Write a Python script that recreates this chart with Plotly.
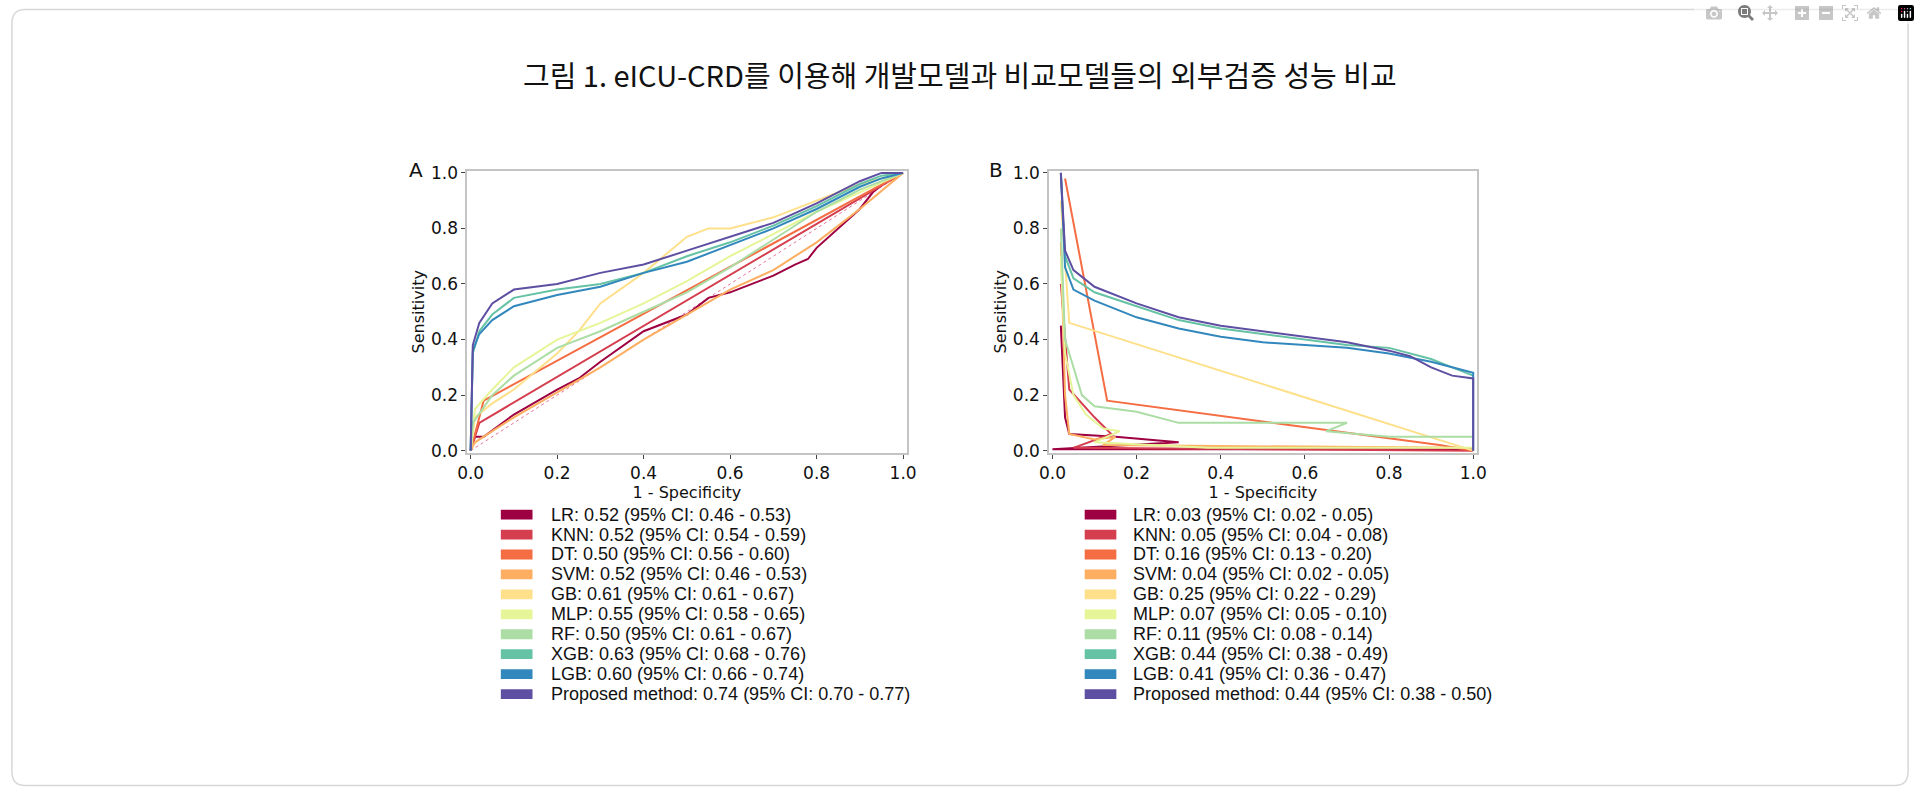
import plotly.graph_objects as go

W, H = 1920, 795

models = ["LR", "KNN", "DT", "SVM", "GB", "MLP", "RF", "XGB", "LGB", "Proposed method"]
colors = ["#9e0142", "#d53e4f", "#f46d43", "#fdae61", "#fee08b",
          "#e6f598", "#abdda4", "#66c2a5", "#3288bd", "#5e4fa2"]

labels_a = ["0.52 (95% CI: 0.46 - 0.53)", "0.52 (95% CI: 0.54 - 0.59)", "0.50 (95% CI: 0.56 - 0.60)",
            "0.52 (95% CI: 0.46 - 0.53)", "0.61 (95% CI: 0.61 - 0.67)", "0.55 (95% CI: 0.58 - 0.65)",
            "0.50 (95% CI: 0.61 - 0.67)", "0.63 (95% CI: 0.68 - 0.76)", "0.60 (95% CI: 0.66 - 0.74)",
            "0.74 (95% CI: 0.70 - 0.77)"]
labels_b = ["0.03 (95% CI: 0.02 - 0.05)", "0.05 (95% CI: 0.04 - 0.08)", "0.16 (95% CI: 0.13 - 0.20)",
            "0.04 (95% CI: 0.02 - 0.05)", "0.25 (95% CI: 0.22 - 0.29)", "0.07 (95% CI: 0.05 - 0.10)",
            "0.11 (95% CI: 0.08 - 0.14)", "0.44 (95% CI: 0.38 - 0.49)", "0.41 (95% CI: 0.36 - 0.47)",
            "0.44 (95% CI: 0.38 - 0.50)"]

# panel A: ROC curves (x = 1 - specificity, y = sensitivity)
roc_x = [
    [0, 0.01, 0.03, 0.1, 0.2, 0.25, 0.3, 0.4, 0.5, 0.55, 0.6, 0.65, 0.7, 0.75, 0.78, 0.8, 0.85, 0.9, 0.93, 0.97, 1],
    [0, 0.02, 1],
    [0, 0.03, 1],
    [0, 0.01, 0.05, 0.1, 0.2, 0.3, 0.4, 0.5, 0.6, 0.7, 0.8, 0.9, 1],
    [0, 0.01, 0.05, 0.1, 0.2, 0.25, 0.3, 0.4, 0.5, 0.55, 0.6, 0.7, 0.8, 0.9, 1],
    [0, 0.01, 0.05, 0.1, 0.2, 0.3, 0.4, 0.5, 0.6, 0.7, 0.8, 0.9, 1],
    [0, 0.005, 0.05, 0.1, 0.2, 0.3, 0.4, 0.5, 0.6, 0.7, 0.8, 0.9, 1],
    [0, 0.005, 0.02, 0.05, 0.1, 0.2, 0.3, 0.4, 0.5, 0.6, 0.7, 0.8, 0.9, 0.95, 1],
    [0, 0.005, 0.02, 0.05, 0.1, 0.2, 0.3, 0.4, 0.5, 0.6, 0.7, 0.8, 0.9, 0.95, 1],
    [0, 0.005, 0.02, 0.05, 0.1, 0.2, 0.3, 0.4, 0.5, 0.6, 0.7, 0.8, 0.9, 0.95, 1],
]
roc_y = [
    [0, 0.05, 0.05, 0.13, 0.22, 0.26, 0.32, 0.43, 0.49, 0.55, 0.57, 0.6, 0.63, 0.67, 0.69, 0.73, 0.8, 0.87, 0.93, 0.98, 1],
    [0, 0.1, 1],
    [0, 0.18, 1],
    [0, 0.03, 0.07, 0.12, 0.21, 0.3, 0.4, 0.49, 0.58, 0.65, 0.75, 0.87, 1],
    [0, 0.12, 0.17, 0.22, 0.35, 0.43, 0.53, 0.64, 0.77, 0.8, 0.8, 0.84, 0.9, 0.96, 1],
    [0, 0.15, 0.22, 0.3, 0.4, 0.46, 0.53, 0.61, 0.7, 0.78, 0.86, 0.93, 1],
    [0, 0.1, 0.2, 0.27, 0.37, 0.43, 0.5, 0.57, 0.66, 0.76, 0.86, 0.94, 1],
    [0, 0.35, 0.43, 0.49, 0.55, 0.58, 0.6, 0.64, 0.7, 0.75, 0.81, 0.88, 0.96, 0.99, 1],
    [0, 0.36, 0.42, 0.47, 0.52, 0.56, 0.59, 0.64, 0.68, 0.74, 0.8, 0.87, 0.95, 0.98, 1],
    [0, 0.38, 0.46, 0.53, 0.58, 0.6, 0.64, 0.67, 0.72, 0.77, 0.82, 0.89, 0.97, 1, 1],
]

# panel B
pr_x = [
    [0.02, 0.03, 0.04, 0.15, 0.3, 0.0, 1],
    [0.02, 0.04, 0.1, 0.14, 0.05, 1],
    [0.03, 0.13, 0.92, 1],
    [0.02, 0.03, 0.04, 0.1, 0.15, 0.12, 0.98],
    [0.02, 0.04, 1],
    [0.02, 0.03, 0.05, 0.08, 0.12, 0.16, 0.1, 0.37, 1],
    [0.02, 0.03, 0.05, 0.07, 0.1, 0.2, 0.3, 0.7, 0.65, 0.8, 1],
    [0.02, 0.03, 0.05, 0.1, 0.2, 0.3, 0.4, 0.5, 0.6, 0.7, 0.8, 0.9, 0.95, 1],
    [0.02, 0.03, 0.05, 0.1, 0.2, 0.3, 0.4, 0.5, 0.6, 0.7, 0.8, 0.9, 0.95, 1, 1],
    [0.02, 0.03, 0.05, 0.1, 0.2, 0.3, 0.4, 0.5, 0.6, 0.7, 0.8, 0.85, 0.9, 0.95, 1, 1],
]
pr_y = [
    [0.45, 0.12, 0.06, 0.05, 0.03, 0.005, 0.005],
    [0.6, 0.22, 0.12, 0.06, 0.01, 0.0],
    [0.98, 0.18, 0.02, 0.0],
    [0.75, 0.2, 0.06, 0.04, 0.05, 0.02, 0.01],
    [0.9, 0.46, 0.0],
    [0.7, 0.35, 0.2, 0.13, 0.08, 0.07, 0.03, 0.01, 0.01],
    [0.8, 0.4, 0.3, 0.2, 0.16, 0.14, 0.1, 0.1, 0.07, 0.05, 0.05],
    [1, 0.7, 0.62, 0.57, 0.52, 0.47, 0.44, 0.42, 0.4, 0.38, 0.37, 0.33, 0.3, 0.27],
    [1, 0.66, 0.58, 0.54, 0.48, 0.44, 0.41, 0.39, 0.38, 0.37, 0.35, 0.32, 0.3, 0.28, 0.0],
    [1, 0.72, 0.65, 0.59, 0.53, 0.48, 0.45, 0.43, 0.41, 0.39, 0.36, 0.34, 0.3, 0.27, 0.26, 0.0],
]

ticks = [0, 0.2, 0.4, 0.6, 0.8, 1.0]
tick_text = ["0.0", "0.2", "0.4", "0.6", "0.8", "1.0"]

fig = go.Figure()
fig.add_trace(go.Scatter(x=[0, 1], y=[0, 1], mode="lines", xaxis="x", yaxis="y",
                         line=dict(color="#e7739a", width=1, dash="dot"), showlegend=False))
for i in range(len(models)):
    fig.add_trace(go.Scatter(x=roc_x[i], y=roc_y[i], mode="lines", xaxis="x", yaxis="y",
                             line=dict(color=colors[i], width=2), showlegend=False))
for i in range(len(models)):
    fig.add_trace(go.Scatter(x=pr_x[i], y=pr_y[i], mode="lines", xaxis="x2", yaxis="y2",
                             line=dict(color=colors[i], width=2), showlegend=False))

mpl_font = "DejaVu Sans"
leg_font = "Liberation Sans, Arial, sans-serif"
axis = dict(range=[-0.008, 1.008], tickvals=ticks, ticktext=tick_text, showgrid=False, zeroline=False,
            showline=True, mirror=True, linecolor="#c4c4c4", linewidth=1.5, ticks="outside",
            ticklen=4, tickcolor="#444", tickfont=dict(size=17, color="#111", family=mpl_font))
title_font = dict(size=16, color="#111", family=mpl_font)

def py(p):
    return 1 - p / H

def px(p):
    return p / W

shapes = [dict(type="path", xref="paper", yref="paper",
               path="M 0.008,0.998 L 0.992,0.998 Q 0.999,0.998 0.999,0.98 L 0.999,0.02 Q 0.999,0.002 0.992,0.002 "
                    "L 0.008,0.002 Q 0.001,0.002 0.001,0.02 L 0.001,0.98 Q 0.001,0.998 0.008,0.998 Z",
               line=dict(color="#d8d8d8", width=1.5), layer="below")]
annotations = [
    dict(text="그림 1. eICU-CRD를 이용해 개발모델과 비교모델들의 외부검증 성능 비교", x=0.5, y=py(67),
         xref="paper", yref="paper", xanchor="center", yanchor="middle", showarrow=False,
         font=dict(size=29, color="#111", family="Noto Sans CJK KR")),
    dict(text="A", x=px(410), y=py(165), xref="paper", yref="paper", xanchor="center", yanchor="middle",
         showarrow=False, font=dict(size=20, color="#111", family=mpl_font)),
    dict(text="B", x=px(996), y=py(165), xref="paper", yref="paper", xanchor="center", yanchor="middle",
         showarrow=False, font=dict(size=20, color="#111", family=mpl_font)),
]
for col, (sw_x, tx_x, labels) in enumerate([(496, 545, labels_a), (1086, 1133, labels_b)]):
    for i in range(len(models)):
        yc = 517 + i * 20.35
        shapes.append(dict(type="rect", xref="paper", yref="paper", x0=px(sw_x), x1=px(sw_x + 32),
                           y0=py(yc + 5), y1=py(yc - 5), fillcolor=colors[i], line=dict(width=0)))
        annotations.append(dict(text=models[i] + ": " + labels[i], x=px(tx_x), y=py(yc), xref="paper", yref="paper",
                                xanchor="left", yanchor="middle", showarrow=False,
                                font=dict(size=18, color="#111", family=leg_font)))

fig.update_layout(
    width=W, height=H, margin=dict(l=0, r=0, t=0, b=0),
    paper_bgcolor="white", plot_bgcolor="white", font=dict(family=mpl_font),
    xaxis=dict(axis, domain=[px(462), px(906)], anchor="y",
               title=dict(text="1 - Specificity", font=title_font, standoff=0)),
    yaxis=dict(axis, domain=[py(454), py(166)], anchor="x",
               title=dict(text="Sensitivity", font=title_font, standoff=2)),
    xaxis2=dict(axis, domain=[px(1050), px(1482)], anchor="y2",
                title=dict(text="1 - Specificity", font=title_font, standoff=0)),
    yaxis2=dict(axis, domain=[py(454), py(166)], anchor="x2",
                title=dict(text="Sensitivity", font=title_font, standoff=2)),
    shapes=shapes, annotations=annotations,
)

fig.write_html("out.html", post_script="document.body.style.margin='0';document.body.style.overflow='hidden';")
